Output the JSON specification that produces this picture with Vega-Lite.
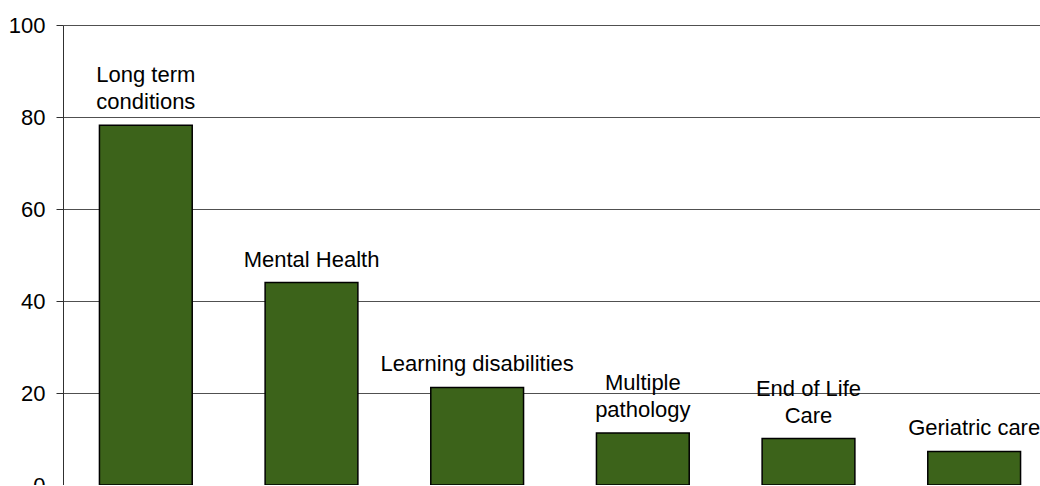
{
  "$schema": "https://vega.github.io/schema/vega-lite/v6.json",
  "autosize": "none",
  "width": 994,
  "height": 460,
  "padding": {"left": 63, "top": 25, "right": 0, "bottom": 0},
  "background": "white",
  "config": {"view": {"stroke": null}, "font": "Liberation Sans"},
  "data": {
    "values": [
      {"category": "Long term conditions", "line1": "Long term", "line2": "conditions", "value": 78.2},
      {"category": "Mental Health", "line1": "", "line2": "Mental Health", "value": 44.0},
      {"category": "Learning disabilities", "line1": "", "line2": "Learning disabilities", "value": 21.2},
      {"category": "Multiple pathology", "line1": "Multiple", "line2": "pathology", "value": 11.3},
      {"category": "End of Life Care", "line1": "End of Life", "line2": "Care", "value": 10.1},
      {"category": "Geriatric care", "line1": "", "line2": "Geriatric care", "value": 7.3}
    ]
  },
  "encoding": {
    "x": {
      "field": "category",
      "type": "nominal",
      "sort": null,
      "scale": {"paddingInner": 0.44, "paddingOuter": 0.22},
      "axis": {"title": null, "labels": false, "ticks": false, "domainColor": "#999999", "domainWidth": 1}
    },
    "y": {
      "field": "value",
      "type": "quantitative",
      "scale": {"domain": [0, 100], "nice": false},
      "axis": {
        "title": null,
        "values": [0, 20, 40, 60, 80, 100],
        "grid": true,
        "gridColor": "#505050",
        "gridWidth": 1,
        "domainColor": "#303030",
        "tickColor": "#303030",
        "tickSize": 7,
        "labelPadding": 11,
        "labelFontSize": 22,
        "labelColor": "#000000",
        "labelFont": "Liberation Sans"
      }
    }
  },
  "layer": [
    {
      "mark": {"type": "bar", "fill": "#3c631a", "stroke": "#000000", "strokeWidth": 1.5}
    },
    {
      "mark": {
        "type": "text",
        "baseline": "bottom",
        "align": "center",
        "dy": -11,
        "fontSize": 22,
        "font": "Liberation Sans",
        "color": "#000000"
      },
      "encoding": {"text": {"field": "line2"}}
    },
    {
      "mark": {
        "type": "text",
        "baseline": "bottom",
        "align": "center",
        "dy": -38,
        "fontSize": 22,
        "font": "Liberation Sans",
        "color": "#000000"
      },
      "encoding": {"text": {"field": "line1"}}
    }
  ]
}
